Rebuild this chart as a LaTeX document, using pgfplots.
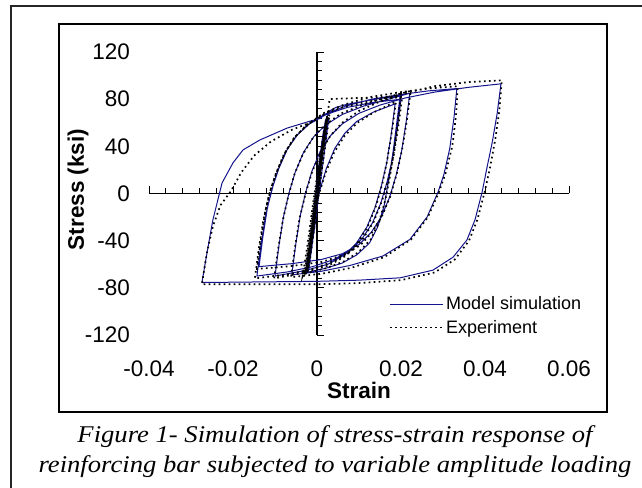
\documentclass[border=0pt]{standalone}
\usepackage{pgfplots}
\pgfplotsset{compat=1.18}
\usepackage{fontspec}
\setmainfont{Liberation Sans}
\newfontfamily\capfont{Liberation Serif}[FakeStretch=1.11]
\definecolor{model}{RGB}{20,20,140}

\pgfplotstableread{
x y
0 0
0.0008 25
0.0015 50
0.0020 62
0.0012 35
0.0002 5
-0.0008 -30
-0.0016 -55
-0.0022 -66
-0.0014 -40
-0.0004 -8
0.0006 25
0.0014 50
0.0022 64
0.0014 40
0.0004 10
-0.0006 -22
-0.0016 -50
-0.0026 -68
-0.0018 -45
-0.0008 -15
0.0002 16
0.0012 45
0.0024 65
0.0016 42
0.0006 14
-0.0004 -18
-0.0012 -45
-0.0020 -65
-0.0010 -34
0.0002 2
0.0014 38
0.0028 64
0.0018 36
0.0006 4
-0.0006 -30
-0.0018 -58
-0.0028 -67
-0.0012 -42
-0.0002 -10
0.0008 22
0.0016 48
0.0022 63
0.0030 70
0.0045 73
0.0070 75.5
0.0100 77.5
0.0140 80
0.0198 83
0.0190 60
0.0181 35
0.0170 10
0.0160 -10
0.0145 -28
0.0125 -42
0.0095 -52
0.0060 -59
0.0020 -63.5
-0.0026 -67
-0.0017 -42
-0.0006 -17
0.0007 3
0.0022 21
0.0042 38
0.0066 51
0.0094 61
0.0134 69
0.0186 76
0.0177 51
0.0166 26
0.0153 6
0.0138 -12
0.0118 -29
0.0094 -42
0.0066 -52
0.0026 -60
-0.0030 -65.5
-0.0100 -70
-0.0091 -45
-0.0080 -20
-0.0067 0
-0.0052 18
-0.0032 35
-0.0008 48
0.0020 58
0.0060 67
0.0110 74
0.0160 79
0.0221 85
0.0212 60
0.0201 35
0.0188 15
0.0173 -3
0.0153 -20
0.0129 -33
0.0101 -43
0.0061 -51
0.0010 -56
-0.0060 -59.5
-0.0138 -62
-0.0129 -37
-0.0118 -12
-0.0105 6
-0.0090 22
-0.0070 38
-0.0046 50
-0.0018 59
0.0022 67
0.0072 73
0.0130 77
0.0200 80
0.0191 55
0.0180 30
0.0167 10
0.0152 -8
0.0132 -25
0.0108 -38
0.0080 -48
0.0040 -56
-0.0010 -62
-0.0070 -66.5
-0.0143 -70
-0.0134 -45
-0.0123 -20
-0.0110 0
-0.0095 18
-0.0075 35
-0.0051 48
-0.0023 58
0.0017 67
0.0067 74
0.0130 80
0.0200 84
0.0265 87
0.0333 89
0.0326 64
0.0316 38
0.0302 16
0.0288 1
0.0262 -20
0.0221 -39
0.0157 -53
0.0079 -61
0.0010 -66
-0.0060 -69
-0.0051 -44
-0.0040 -19
-0.0027 1
-0.0012 19
0.0008 36
0.0032 49
0.0060 59
0.0100 68
0.0150 75
0.0210 81
0.0280 86
0.0360 90
0.0438 93
0.0429 68
0.0417 43
0.0405 22.5
0.0393 1
0.0376 -22.5
0.0357 -39.4
0.0324 -54
0.0276 -65
0.0198 -71.5
0.0100 -73.5
0.0000 -74.5
-0.0140 -75
-0.0274 -75.5
-0.0262 -50.5
-0.0248 -22.5
-0.0226 9
-0.0200 26
-0.0176 37
-0.0136 45.4
-0.0071 55.5
-0.0020 61
0.0012 64
}\modeldata

\pgfplotstableread{
x y
0 0
0.0010 30
0.0018 55
0.0022 63
0.0012 30
0.0002 0
-0.0010 -34
-0.0020 -58
-0.0026 -67
-0.0016 -40
-0.0004 -6
0.0008 28
0.0018 54
0.0026 66
0.0016 36
0.0004 4
-0.0008 -30
-0.0020 -58
-0.0030 -69
-0.0018 -38
-0.0006 -4
0.0008 30
0.0020 58
0.0030 67
0.0018 36
0.0006 6
-0.0006 -28
-0.0016 -54
-0.0022 -66
-0.0010 -32
0.0004 8
0.0016 44
0.0024 62
0.0014 34
0.0000 -2
-0.0012 -36
-0.0024 -62
-0.0034 -70
-0.0022 -42
-0.0010 -10
0.0004 24
0.0016 52
0.0024 64
0.0012 32
-0.0002 -4
-0.0014 -40
-0.0022 -60
-0.0028 -68
-0.0016 -40
-0.0002 -2
0.0010 30
0.0020 58
0.0027 72
0.0030 80
0.0060 80.5
0.0100 81
0.0150 81.5
0.0185 82.5
0.0200 85
0.0193 62
0.0184 38
0.0174 15
0.0163 -5
0.0148 -24
0.0128 -39
0.0098 -50
0.0062 -58
0.0020 -63.5
-0.0028 -68
-0.0019 -44
-0.0008 -20
0.0005 0
0.0021 18
0.0041 35
0.0066 49
0.0096 60
0.0136 69
0.0188 78
0.0179 54
0.0168 30
0.0156 9
0.0141 -10
0.0121 -28
0.0096 -42
0.0068 -53
0.0028 -61
-0.0030 -67
-0.0102 -72
-0.0093 -48
-0.0082 -24
-0.0069 -3
-0.0054 16
-0.0034 33
-0.0010 47
0.0018 58
0.0058 68
0.0108 75
0.0160 81
0.0223 87
0.0214 62
0.0203 38
0.0190 17
0.0175 -2
0.0155 -19
0.0131 -33
0.0103 -44
0.0063 -52
0.0012 -58
-0.0060 -61.5
-0.0143 -64
-0.0134 -40
-0.0123 -15
-0.0110 4
-0.0094 20
-0.0074 36
-0.0050 49
-0.0020 59
0.0020 68
0.0070 74
0.0130 78.5
0.0203 82
0.0194 58
0.0183 33
0.0170 12
0.0155 -6
0.0135 -24
0.0110 -38
0.0082 -49
0.0042 -57
-0.0010 -64
-0.0070 -68.5
-0.0148 -72
-0.0139 -48
-0.0128 -23
-0.0115 -2
-0.0099 16
-0.0079 33
-0.0055 47
-0.0025 58
0.0015 68
0.0065 75.5
0.0130 82
0.0200 86
0.0265 89
0.0335 91
0.0331 66
0.0322 40
0.0306 17
0.0290 1
0.0264 -20
0.0224 -39
0.0160 -54
0.0082 -63
0.0012 -68
-0.0062 -71
-0.0053 -47
-0.0042 -22
-0.0028 -1
-0.0012 18
0.0008 35
0.0032 49
0.0060 60
0.0100 70
0.0150 78
0.0210 85
0.0280 91
0.0360 94.5
0.0440 96
0.0434 70
0.0424 45
0.0412 22
0.0399 1
0.0382 -22
0.0362 -40
0.0328 -56
0.0280 -67
0.0200 -73.5
0.0100 -76
0.0000 -77
-0.0140 -77
-0.0274 -77
-0.0262 -50
-0.0248 -28
-0.0230 -10
-0.0205 2
-0.0180 18
-0.0150 32
-0.0110 44
-0.0060 54
-0.0010 61
0.0005 64
}\expdata

\begin{document}
\begin{tikzpicture}[x=1pt,y=1pt]
\useasboundingbox (0,0) rectangle (642,487);
% frames
\draw[line width=1.5pt, black!85] (11,-20) rectangle (665,481);
\draw[line width=1.4pt] (59,75) rectangle (607,463);

% tick labels and axis titles sit on the plot-area edges
\begin{axis}[
    at={(149pt,152pt)}, anchor=south west,
    scale only axis, width=420pt, height=283pt,
    xmin=-0.04, xmax=0.06, ymin=-120, ymax=120,
    scaled x ticks=false, scaled y ticks=false,
    axis line style={draw=none},
    major tick length=0pt,
    xtick={-0.04,-0.02,0,0.02,0.04,0.06},
    xticklabels={-0.04,-0.02,0,0.02,0.04,0.06},
    ytick={-120,-80,-40,0,40,80,120},
    yticklabels={-120,-80,-40,0,40,80,120},
    tick label style={font=\fontsize{22.5}{26}\selectfont},
    xticklabel style={anchor=center, inner sep=0pt, yshift=-34pt},
    yticklabel style={anchor=east, inner sep=0pt, xshift=-19pt},
    xlabel={Strain}, ylabel={Stress (ksi)},
    label style={font=\bfseries\fontsize{22.5}{26}\selectfont},
    xlabel style={at={(rel axis cs:0.5,0)}, anchor=center, yshift=-55pt},
    ylabel style={at={(rel axis cs:0,0.5)}, anchor=center, yshift=71pt, xshift=4pt},
]
\end{axis}

\begin{axis}[
    at={(149pt,152pt)}, anchor=south west,
    scale only axis, width=420pt, height=283pt,
    xmin=-0.04, xmax=0.06, ymin=-120, ymax=120,
    scaled x ticks=false, scaled y ticks=false,
    axis lines=middle,
    axis line style={-, line width=1.1pt},
    xtick={-0.04,-0.02,0,0.02,0.04,0.06},
    ytick={-120,-80,-40,0,40,80,120},
    xticklabels={}, yticklabels={},
    minor x tick num=4, minor y tick num=4,
    tick align=inside,
    major tick length=7pt, minor tick length=5pt,
    tick style={black, line width=0.8pt},
    legend style={draw=none, fill=none, at={(axis cs:0.0165,-84)}, anchor=north west,
        font=\fontsize{18}{20}\selectfont, row sep=5pt,
        /tikz/every even column/.append style={column sep=3pt}},
    legend cell align=left,
    legend image code/.code={\draw[#1] (0pt,0pt) -- (53pt,0pt);},
]
\addplot[model, line width=1pt, line join=round] table {\modeldata};
\addlegendentry{Model simulation}
\addplot[black, line width=1.7pt, dash pattern=on 1.7pt off 3.3pt] table {\expdata};
\addlegendentry{Experiment}
\end{axis}

% caption
\node[anchor=base, font=\capfont\itshape\fontsize{24}{28}\selectfont] at (335,45)
    {Figure 1- Simulation of stress-strain response of};
\node[anchor=base, font=\capfont\itshape\fontsize{24}{28}\selectfont] at (335,15)
    {reinforcing bar subjected to variable amplitude loading};
\end{tikzpicture}
\end{document}
